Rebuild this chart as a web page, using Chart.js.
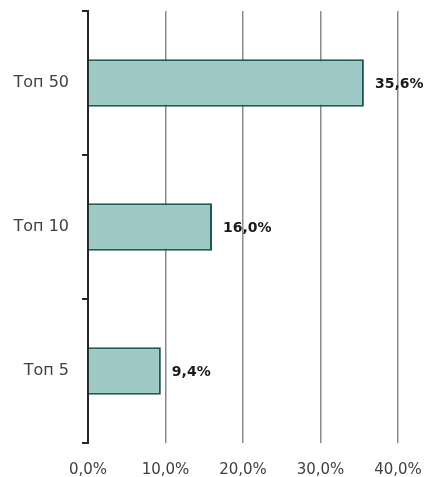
<!DOCTYPE html>
<html>
<head>
<meta charset="utf-8">
<script src="https://cdn.jsdelivr.net/npm/chart.js@4/dist/chart.umd.min.js"></script>
<style>
  html, body { margin: 0; padding: 0; background: #fff; }
  #wrap { width: 426px; height: 477px; }
</style>
</head>
<body>
<div id="wrap"><canvas id="bar-chart"></canvas></div>
<script>
const categories = ["Топ 50", "Топ 10", "Топ 5"];
const shares = [35.6, 16.0, 9.4];
const tickValues = [0, 10, 20, 30, 40];

const fmt = v => v.toFixed(1).replace(".", ",") + "%";

// value labels at the end of each bar
const barLabels = {
    id: "barLabels",
    afterDatasetsDraw(chart) {
        const ctx = chart.ctx;
        const meta = chart.getDatasetMeta(0);
        ctx.save();
        ctx.font = "bold 14px 'DejaVu Sans'";
        ctx.fillStyle = "#1a1a1a";
        ctx.textBaseline = "middle";
        ctx.textAlign = "left";
        meta.data.forEach((bar, i) => {
            ctx.fillText(fmt(shares[i]), bar.x + 11, bar.y + 1);
        });
        ctx.restore();
    }
};

new Chart(document.getElementById("bar-chart"), {
    type: "bar",
    data: {
        labels: categories,
        datasets: [{
            data: shares,
            backgroundColor: "#9dc8c4",
            borderColor: "#1d5757",
            borderWidth: 2,
            barPercentage: 0.33,
            categoryPercentage: 1
        }]
    },
    options: {
        indexAxis: "y",
        responsive: true,
        maintainAspectRatio: false,
        animation: false,
        layout: { padding: { top: 11, right: 28, left: 0, bottom: 0 } },
        plugins: {
            legend: { display: false },
            tooltip: { enabled: false }
        },
        scales: {
            x: {
                min: 0,
                max: 40,
                afterBuildTicks: axis => { axis.ticks = tickValues.map(v => ({ value: v })); },
                border: { display: false },
                grid: {
                    color: ctx => ctx.tick && ctx.tick.value === 0 ? "rgba(0,0,0,0)" : "#8a8a8a",
                    lineWidth: 1.5,
                    drawTicks: false
                },
                ticks: {
                    padding: 18,
                    color: "#404040",
                    font: { family: "'DejaVu Sans'", size: 15 },
                    callback: v => fmt(v)
                },
                afterFit: axis => {
                    axis.height = 34;
                    axis.paddingLeft = 0;
                    axis.paddingRight = 0;
                }
            },
            y: {
                border: { display: true, color: "#262626", width: 2 },
                grid: {
                    offset: true,
                    drawOnChartArea: false,
                    drawTicks: true,
                    tickLength: 6,
                    color: "#262626",
                    lineWidth: 2
                },
                ticks: {
                    padding: 13,
                    color: "#404040",
                    font: { family: "'DejaVu Sans'", size: 16 }
                },
                afterFit: axis => {
                    axis.width = 88;
                    axis.paddingTop = 0;
                    axis.paddingBottom = 0;
                }
            }
        }
    },
    plugins: [barLabels]
});
</script>
</body>
</html>
